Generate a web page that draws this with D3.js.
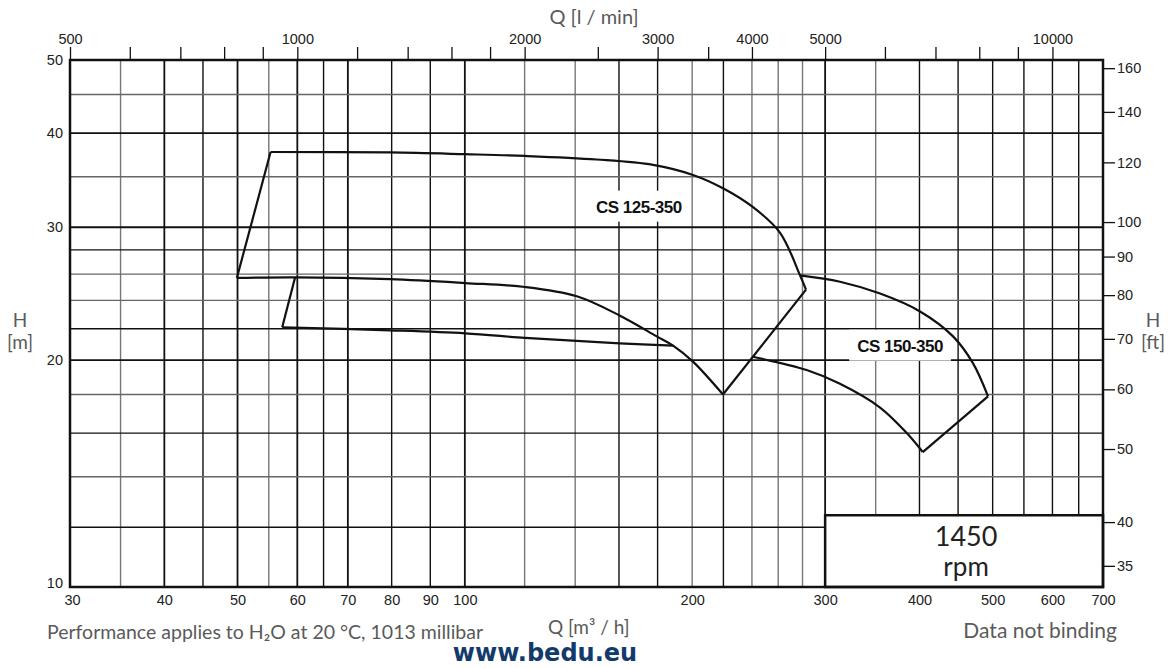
<!DOCTYPE html>
<html>
<head>
<meta charset="utf-8">
<script src="https://cdn.jsdelivr.net/npm/d3@7"></script>
<style>
  html, body { margin: 0; padding: 0; background: #fff; }
  svg { display: block; }
</style>
</head>
<body>
<svg id="chart" width="1175" height="668"></svg>
<script>
// ---------- DATA ----------
const qTicksBottom = [30, 40, 50, 60, 70, 80, 90, 100, 200, 300, 400, 500, 600, 700];
const qGridLines = [35, 40, 45, 50, 55, 60, 65, 70, 80, 90, 100, 120, 140, 160, 180, 200, 220, 240, 260, 280, 300, 350, 400, 450, 500, 550, 600, 650];
const qGridGray = [35, 55, 120, 140, 200, 240, 260, 280, 350];
const hTicksLeft = [10, 20, 30, 40, 50];
const hGridLines = [12, 14, 16, 18, 20, 22, 24, 26, 28, 30, 35, 40, 45];
const hGridGray = [14, 18, 24, 26, 35, 45];
const lminLabels = [500, 1000, 2000, 3000, 4000, 5000, 10000];
const lminMinor = [600, 700, 800, 900, 1200, 1400, 1600, 1800, 2500, 3500, 6000, 7000, 8000, 9000];
const ftTicks = [35, 40, 50, 60, 70, 80, 90, 100, 120, 140, 160];

// CS 125-350 curves [Q m3/h, H m]
const cs125Max = [[55.3, 37.75], [79.6, 37.7], [100.1, 37.5], [120.1, 37.3], [149.5, 36.9], [177.5, 36.3], [200.5, 35.2], [219.7, 33.8], [240.8, 31.9], [261.5, 29.5], [277.9, 25.9], [283.0, 24.8]];
const cs125Mid = [[49.9, 25.7], [59.6, 25.75], [79.6, 25.6], [100.1, 25.3], [120.1, 25.0], [140.7, 24.3], [160.5, 22.9], [179.5, 21.5], [188.7, 20.9], [200.5, 19.9], [219.7, 18.0]];
const cs125Min = [[57.3, 22.1], [79.6, 21.9], [100.1, 21.7], [120.1, 21.4], [140.7, 21.2], [160.5, 21.05], [188.7, 20.9]];
const cs125Left1 = [[49.9, 25.7], [55.3, 37.75]];
const cs125Left2 = [[59.6, 25.75], [57.3, 22.1]];
const cs125Right = [[283.0, 24.8], [219.7, 18.0]];

// CS 150-350 curves
const cs150Max = [[277.9, 25.9], [313.9, 25.4], [354.7, 24.5], [400.7, 23.2], [443.1, 21.5], [471.0, 19.8], [493.0, 17.9]];
const cs150Min = [[240.6, 20.2], [283.6, 19.4], [313.9, 18.6], [354.7, 17.3], [384.8, 16.0], [404.0, 15.1]];
const cs150Right = [[493.0, 17.9], [404.0, 15.1]];

const curveLabels = [
  { text: "CS 125-350", q: 170, h: 31.8 },
  { text: "CS 150-350", q: 377, h: 20.8 }
];
const speedBox = { q0: 300, q1: 700, h0: 10, h1: 12.45 };

// ---------- SCALES ----------
const svg = d3.select("#chart");
const L = 70, R = 1103, T = 60, B = 587;
const x = d3.scaleLog().domain([30, 700]).range([L, R]);
const y = d3.scaleLog().domain([10, 50]).range([B, T]);
const xl = d3.scaleLog().domain([30 * 1000 / 60, 700 * 1000 / 60]).range([L, R]);
const yft = d3.scaleLog().domain([10 / 0.3048, 50 / 0.3048]).range([B, T]);

const labelFont = "'Liberation Sans', Arial, sans-serif";
const textFont = "Lato, 'Open Sans', sans-serif";

// ---------- GRID ----------
const grid = svg.append("g");
grid.selectAll("line.v").data(qGridLines).enter().append("line")
  .attr("x1", d => x(d)).attr("x2", d => x(d)).attr("y1", T).attr("y2", B)
  .attr("stroke", d => qGridGray.includes(d) ? "#777" : "#111")
  .attr("stroke-width", d => [40, 50, 60, 70, 100, 300].includes(d) ? 1.8 : 1.4);
grid.selectAll("line.h").data(hGridLines).enter().append("line")
  .attr("y1", d => y(d)).attr("y2", d => y(d)).attr("x1", L).attr("x2", R)
  .attr("stroke", d => hGridGray.includes(d) ? "#666" : "#111")
  .attr("stroke-width", d => [20, 30, 40].includes(d) ? 1.8 : 1.4);

// ---------- SPEED BOX ----------
svg.append("rect")
  .attr("x", x(speedBox.q0)).attr("y", y(speedBox.h1))
  .attr("width", x(speedBox.q1) - x(speedBox.q0)).attr("height", y(speedBox.h0) - y(speedBox.h1))
  .attr("fill", "#fff").attr("stroke", "#111").attr("stroke-width", 2.5);
const bx = (x(speedBox.q0) + x(speedBox.q1)) / 2 + 2;
svg.append("text").attr("x", bx).attr("y", 546).attr("text-anchor", "middle")
  .attr("font-family", textFont).attr("font-size", 27).attr("fill", "#222").text("1450");
svg.append("text").attr("x", bx).attr("y", 576).attr("text-anchor", "middle")
  .attr("font-family", textFont).attr("font-size", 26).attr("fill", "#222").text("rpm");

// ---------- FRAME ----------
svg.append("rect").attr("x", L).attr("y", T).attr("width", R - L).attr("height", B - T)
  .attr("fill", "none").attr("stroke", "#111").attr("stroke-width", 2.5);

// ---------- CURVE LABELS (white background) ----------
curveLabels.forEach(c => {
  const g = svg.append("g");
  const t = g.append("text").attr("x", x(c.q)).attr("y", y(c.h))
    .attr("text-anchor", "middle").attr("dominant-baseline", "middle")
    .attr("font-family", labelFont).attr("font-weight", "bold").attr("font-size", 17)
    .attr("letter-spacing", -0.5).attr("fill", "#111").text(c.text);
  const bb = t.node().getBBox();
  g.insert("rect", "text").attr("x", bb.x - 8).attr("y", bb.y - 7)
    .attr("width", bb.width + 16).attr("height", bb.height + 12).attr("fill", "#fff");
});

// ---------- CURVES ----------
const smooth = d3.line().x(d => x(d[0])).y(d => y(d[1])).curve(d3.curveCatmullRom.alpha(0.5));
const straight = d3.line().x(d => x(d[0])).y(d => y(d[1]));
const curves = svg.append("g").attr("fill", "none").attr("stroke", "#111").attr("stroke-width", 2.2)
  .attr("stroke-linejoin", "round");
[cs125Max, cs125Mid, cs125Min, cs150Max, cs150Min].forEach(s => curves.append("path").attr("d", smooth(s)));
[cs125Left1, cs125Left2, cs125Right, cs150Right].forEach(s => curves.append("path").attr("d", straight(s)));

// ---------- AXES ----------
// Bottom Q m3/h
const axBottom = svg.append("g").attr("transform", `translate(0,${B})`)
  .call(d3.axisBottom(x).tickValues(qTicksBottom).tickFormat(d3.format("d")).tickSize(0).tickPadding(8));
axBottom.select(".domain").remove();
axBottom.selectAll("text").attr("font-family", labelFont).attr("font-size", 14.5).attr("fill", "#222")
  .attr("dx", d => d === 30 ? 2 : 0);

// Left H m
const axLeft = svg.append("g").attr("transform", `translate(${L},0)`)
  .call(d3.axisLeft(y).tickValues(hTicksLeft).tickFormat(d3.format("d")).tickSize(0).tickPadding(7));
axLeft.select(".domain").remove();
axLeft.selectAll("text").attr("font-family", labelFont).attr("font-size", 14.5).attr("fill", "#222")
  .attr("dy", d => d === 10 ? "0.05em" : "0.32em");

// Top Q l/min
const axTop = svg.append("g").attr("transform", `translate(0,${T})`)
  .call(d3.axisTop(xl).tickValues(lminLabels).tickFormat(d3.format("d")).tickSize(13).tickPadding(3));
axTop.select(".domain").remove();
axTop.selectAll("line").attr("stroke", "#111").attr("stroke-width", 1.3);
axTop.selectAll("text").attr("font-family", labelFont).attr("font-size", 14.5).attr("fill", "#222");
const axTopMinor = svg.append("g").attr("transform", `translate(0,${T})`)
  .call(d3.axisTop(xl).tickValues(lminMinor).tickFormat("").tickSize(13));
axTopMinor.select(".domain").remove();
axTopMinor.selectAll("line").attr("stroke", "#111").attr("stroke-width", 1.3);

// Right H ft
const axRight = svg.append("g").attr("transform", `translate(${R},0)`)
  .call(d3.axisRight(yft).tickValues(ftTicks).tickFormat(d3.format("d")).tickSize(12).tickPadding(2));
axRight.select(".domain").remove();
axRight.selectAll("line").attr("stroke", "#111").attr("stroke-width", 1.3);
axRight.selectAll("text").attr("font-family", labelFont).attr("font-size", 14.5).attr("fill", "#222");

// ---------- AXIS TITLES & NOTES ----------
const gray = "#5a5a5a";
svg.append("text").attr("x", 594).attr("y", 24).attr("text-anchor", "middle")
  .attr("font-family", textFont).attr("font-size", 20).attr("fill", gray).text("Q [l / min]");
svg.append("text").attr("x", 20).attr("y", 327).attr("text-anchor", "middle")
  .attr("font-family", textFont).attr("font-size", 19).attr("fill", gray).text("H");
svg.append("text").attr("x", 20).attr("y", 349).attr("text-anchor", "middle")
  .attr("font-family", textFont).attr("font-size", 19).attr("fill", gray).text("[m]");
svg.append("text").attr("x", 1153).attr("y", 327).attr("text-anchor", "middle")
  .attr("font-family", textFont).attr("font-size", 19).attr("fill", gray).text("H");
svg.append("text").attr("x", 1153).attr("y", 349).attr("text-anchor", "middle")
  .attr("font-family", textFont).attr("font-size", 19).attr("fill", gray).text("[ft]");

svg.append("text").attr("x", 47).attr("y", 639)
  .attr("font-family", textFont).attr("font-size", 19.5).attr("fill", gray)
  .text("Performance applies to H\u2082O at 20 °C, 1013 millibar");

svg.append("text").attr("x", 548).attr("y", 634)
  .attr("font-family", textFont).attr("font-size", 19).attr("fill", gray)
  .text("Q [m\u00B3 / h]");

svg.append("text").attr("x", 1117).attr("y", 638).attr("text-anchor", "end")
  .attr("font-family", textFont).attr("font-size", 21).attr("fill", gray).text("Data not binding");

svg.append("text").attr("x", 545).attr("y", 661).attr("text-anchor", "middle")
  .attr("font-family", "'DejaVu Sans', sans-serif").attr("font-weight", "bold")
  .attr("font-size", 24).attr("fill", "#123a6a").text("www.bedu.eu");
</script>
</body>
</html>
